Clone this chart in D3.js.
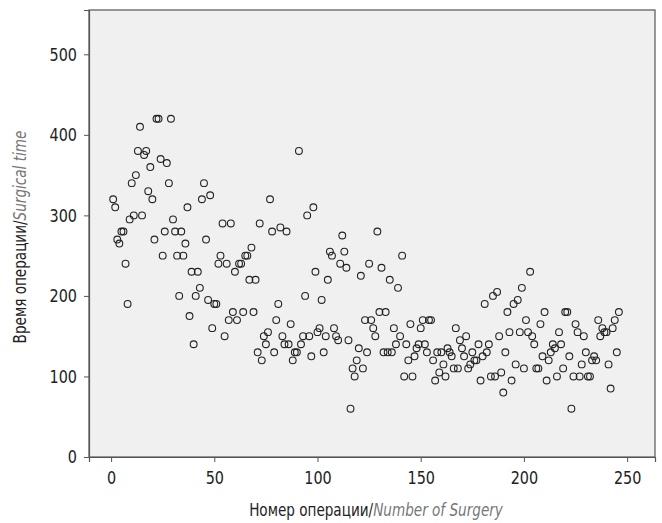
<!DOCTYPE html>
<html>
<head>
<meta charset="utf-8">
<script src="https://cdn.jsdelivr.net/npm/d3@7"></script>
<style>
  body { margin: 0; background: #fff; }
  text { font-family: "DejaVu Sans", sans-serif; }
</style>
</head>
<body>
<svg id="chart" width="662" height="523"></svg>
<script>
// surgical time (min) for surgery number 1..246
var times = [
  320, 310, 270, 265, 280, 280, 240, 190, 295, 340,
  300, 350, 380, 410, 300, 375, 380, 330, 360, 320,
  270, 420, 420, 370, 250, 280, 365, 340, 420, 295,
  280, 250, 200, 280, 250, 265, 310, 175, 230, 140,
  200, 230, 210, 320, 340, 270, 195, 325, 160, 190,
  190, 240, 250, 290, 150, 240, 170, 290, 180, 230,
  170, 240, 240, 180, 250, 250, 220, 260, 180, 220,
  130, 290, 120, 150, 140, 155, 320, 280, 130, 170,
  190, 285, 150, 140, 280, 140, 165, 120, 130, 130,
  380, 140, 150, 200, 300, 150, 125, 310, 230, 155,
  160, 195, 130, 150, 220, 255, 250, 160, 150, 145,
  240, 275, 255, 235, 145, 60, 110, 100, 120, 135,
  225, 110, 170, 130, 240, 170, 160, 150, 280, 180,
  235, 130, 180, 130, 220, 130, 160, 140, 210, 150,
  250, 100, 140, 120, 165, 100, 125, 135, 140, 160,
  170, 140, 130, 170, 170, 120, 95, 130, 105, 130,
  115, 100, 135, 130, 125, 110, 160, 110, 145, 135,
  125, 150, 110, 115, 130, 120, 120, 140, 95, 125,
  190, 130, 140, 100, 200, 100, 205, 150, 105, 80,
  130, 180, 155, 95, 190, 115, 195, 155, 210, 110,
  170, 155, 230, 150, 140, 110, 110, 165, 125, 180,
  95, 120, 130, 140, 135, 100, 155, 140, 110, 180,
  180, 125, 60, 100, 165, 155, 100, 115, 150, 130,
  100, 100, 120, 125, 120, 170, 150, 160, 155, 155,
  115, 85, 160, 170, 130, 180
];
var xTicks = [0, 50, 100, 150, 200, 250];
var yTicks = [0, 100, 200, 300, 400, 500];

var data = times.map(function(d, i){ return {n: i + 1, t: d}; });

var svg = d3.select("#chart");
var m = {left: 89, right: 655, top: 10, bottom: 457};
var squeeze = 0.8; // fake a condensed face

var x = d3.scaleLinear().domain([-10.7, 263.5]).range([m.left, m.right]);
var y = d3.scaleLinear().domain([0, 555]).range([m.bottom, m.top]);

// plot background + frame
svg.append("rect")
    .attr("x", m.left).attr("y", m.top)
    .attr("width", m.right - m.left).attr("height", m.bottom - m.top)
    .attr("fill", "#f0f0f0")
    .attr("stroke", "#555").attr("stroke-width", 1.2);

// axes
var xAxis = svg.append("g")
    .attr("transform", "translate(0," + m.bottom + ")")
    .call(d3.axisBottom(x).tickValues(xTicks).tickSize(5).tickPadding(9));

var yAxis = svg.append("g")
    .attr("transform", "translate(" + m.left + ",0)")
    .call(d3.axisLeft(y).tickValues(yTicks).tickSize(5).tickPadding(7));

[xAxis, yAxis].forEach(function(g){
  g.select(".domain").attr("stroke", "#555").attr("stroke-width", 1.2);
  g.selectAll(".tick line").attr("stroke", "#555");
  g.selectAll(".tick text")
      .attr("fill", "#222")
      .style("font-size", "18px")
      .style("font-family", "'DejaVu Sans', sans-serif");
});
xAxis.selectAll(".tick text").attr("transform", "scale(" + squeeze + ",1)");
yAxis.selectAll(".tick text")
    .attr("x", -12 / squeeze)
    .attr("transform", "scale(" + squeeze + ",1)");

// points
svg.append("g").selectAll("circle")
    .data(data)
  .enter().append("circle")
    .attr("cx", function(d){ return x(d.n); })
    .attr("cy", function(d){ return y(d.t); })
    .attr("r", 3.4)
    .attr("fill", "none")
    .attr("stroke", "#222")
    .attr("stroke-width", 1.1);

// axis titles
var xt = svg.append("text")
    .attr("transform", "translate(376,516) scale(" + squeeze + ",1)")
    .attr("text-anchor", "middle")
    .style("font-size", "17px");
xt.append("tspan").attr("fill", "#222").text("Номер операции/");
xt.append("tspan").attr("fill", "#777").style("font-style", "italic").text("Number of Surgery");

var yt = svg.append("text")
    .attr("transform", "translate(26,237) rotate(-90) scale(" + squeeze + ",1)")
    .attr("text-anchor", "middle")
    .style("font-size", "17px");
yt.append("tspan").attr("fill", "#222").text("Время операции/");
yt.append("tspan").attr("fill", "#777").style("font-style", "italic").text("Surgical time");
</script>
</body>
</html>
